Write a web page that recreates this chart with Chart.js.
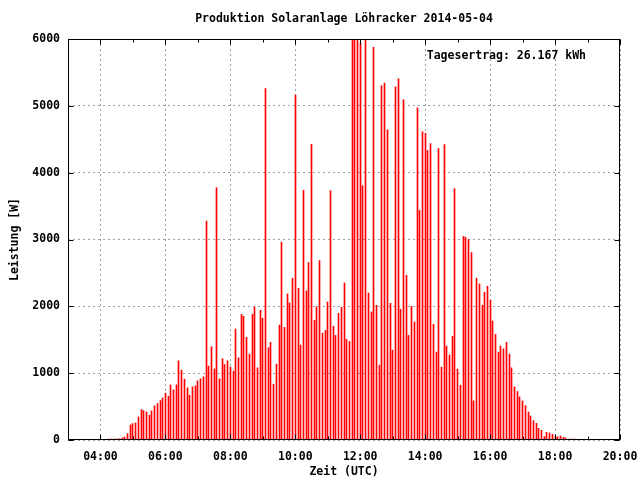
<!DOCTYPE html>
<html><head><meta charset="utf-8">
<script src="https://cdn.jsdelivr.net/npm/chart.js@4/dist/chart.umd.min.js"></script>
<style>html,body{margin:0;padding:0;background:#fff}canvas{display:block}</style>
</head><body>
<canvas id="c" width="640" height="480"></canvas>
<script>
const chartTitle = "Produktion Solaranlage Löhracker 2014-05-04";
const yieldText = "Tagesertrag: 26.167 kWh";
const xAxisTitle = "Zeit (UTC)";
const yAxisTitle = "Leistung [W]";
const xRange = ["03:00", "20:00"];
const xTickLabels = ["04:00","06:00","08:00","10:00","12:00","14:00","16:00","18:00","20:00"];
const xMinorTickLabels = ["05:00","07:00","09:00","11:00","13:00","15:00","17:00","19:00"];
const yTickValues = [0,1000,2000,3000,4000,5000,6000];

const times = [
"04:15","04:20","04:25","04:30","04:35","04:40","04:45","04:50","04:55",
"05:00","05:05","05:10","05:15","05:20","05:25","05:30","05:35","05:40","05:45","05:50","05:55",
"06:00","06:05","06:10","06:15","06:20","06:25","06:30","06:35","06:40","06:45","06:50","06:55",
"07:00","07:05","07:10","07:15","07:20","07:25","07:30","07:35","07:40","07:45","07:50","07:55",
"08:00","08:05","08:10","08:15","08:20","08:25","08:30","08:35","08:40","08:45","08:50","08:55",
"09:00","09:05","09:10","09:15","09:20","09:25","09:30","09:35","09:40","09:45","09:50","09:55",
"10:00","10:05","10:10","10:15","10:20","10:25","10:30","10:35","10:40","10:45","10:50","10:55",
"11:00","11:05","11:10","11:15","11:20","11:25","11:30","11:35","11:40","11:45","11:50","11:55",
"12:00","12:05","12:10","12:15","12:20","12:25","12:30","12:35","12:40","12:45","12:50","12:55",
"13:00","13:05","13:10","13:15","13:20","13:25","13:30","13:35","13:40","13:45","13:50","13:55",
"14:00","14:05","14:10","14:15","14:20","14:25","14:30","14:35","14:40","14:45","14:50","14:55",
"15:00","15:05","15:10","15:15","15:20","15:25","15:30","15:35","15:40","15:45","15:50","15:55",
"16:00","16:05","16:10","16:15","16:20","16:25","16:30","16:35","16:40","16:45","16:50","16:55",
"17:00","17:05","17:10","17:15","17:20","17:25","17:30","17:35","17:40","17:45","17:50","17:55",
"18:00","18:05","18:10","18:15","18:20","18:25","18:30","18:35"
];
const power = [
15,15,15,15,20,30,45,95,225,
245,255,345,455,440,420,370,435,510,545,590,630,
700,655,825,750,825,1185,1045,910,780,670,795,810,
885,915,945,3275,1105,1395,1065,3775,915,1215,1130,1185,
1090,1030,1660,1230,1880,1850,1535,1285,1880,1990,1080,1940,
1820,5260,1380,1460,835,1135,1720,2960,1685,2185,2050,2420,
5160,2270,1420,3735,2230,2655,4425,1790,1995,2685,1600,1640,
2065,3730,1700,1565,1895,1985,2350,1505,1475,6300,6500,6200,
5940,3805,6300,2200,1915,5875,2015,1120,5300,5340,4640,2045,
1345,5285,5405,1955,5090,2465,1565,2000,1765,4970,3435,4610,
4590,4330,4435,1730,1315,4360,1090,4420,1405,1270,1550,3760,
1060,820,3045,3035,3000,2805,585,2420,2335,2015,2210,2300,
2090,1780,1580,1315,1405,1365,1460,1285,1080,795,725,645,
585,515,420,360,290,250,175,145,50,115,105,85,
55,45,60,40,30,15,15,15
];

const FONT = "'DejaVu Sans Mono', 'Liberation Mono', monospace";
const fontSpec = {family: FONT, size: 11.5, weight: 'bold', lineHeight: 1.2};
function toMin(s){ const p = s.split(':'); return (+p[0])*60 + (+p[1]); }
function fmt(v){ const h = Math.floor(v/60), m = Math.round(v%60); return String(h).padStart(2,'0')+':'+String(m).padStart(2,'0'); }

// snap each bar (positioned by the library's x scale) to the pixel grid for crisp 1px impulses
const snapPlugin = {
  id: 'snap',
  afterDatasetsUpdate(chart){
    chart.getDatasetMeta(0).data.forEach(el => { el.x = Math.floor(el.x) + 0.5; });
  }
};

const framePlugin = {
  id: 'frame',
  afterDraw(chart){
    const {ctx, chartArea: a, scales: {x, y}} = chart;
    ctx.save();
    ctx.strokeStyle = '#000';
    ctx.lineWidth = 1;
    ctx.beginPath();
    const L = Math.round(a.left)+0.5, R = Math.round(a.right)-0.5, T = Math.round(a.top)+0.5, B = Math.round(a.bottom)-0.5;
    xTickLabels.forEach(l => {
      const px = Math.round(x.getPixelForValue(toMin(l))) + 0.5;
      ctx.moveTo(px, B); ctx.lineTo(px, B-5);
      ctx.moveTo(px, T); ctx.lineTo(px, T+5);
    });
    xMinorTickLabels.forEach(l => {
      const px = Math.round(x.getPixelForValue(toMin(l))) + 0.5;
      ctx.moveTo(px, B); ctx.lineTo(px, B-3);
      ctx.moveTo(px, T); ctx.lineTo(px, T+3);
    });
    yTickValues.forEach(v => {
      const py = Math.round(y.getPixelForValue(v)) + 0.5;
      ctx.moveTo(L, py); ctx.lineTo(L+5, py);
      ctx.moveTo(R, py); ctx.lineTo(R-5, py);
    });
    ctx.stroke();
    ctx.strokeRect(L, T, R-L, B-T);
    ctx.fillStyle = '#000';
    ctx.font = "bold 11.5px " + FONT;
    ctx.textAlign = 'right';
    ctx.textBaseline = 'middle';
    ctx.fillText(yieldText, a.right - 34, a.top + 17);
    ctx.restore();
  }
};

new Chart(document.getElementById('c'), {
  type: 'bar',
  data: {
    datasets: [{
      data: times.map((t, i) => ({x: toMin(t), y: power[i]})),
      backgroundColor: '#ff0000',
      borderWidth: 0,
      barThickness: 1,
      clip: 0
    }]
  },
  options: {
    responsive: false,
    animation: false,
    devicePixelRatio: 1,
    layout: {padding: {left: 0, right: 20, top: 0, bottom: 0}},
    plugins: {
      legend: {display: false},
      tooltip: {enabled: false},
      title: {display: true, text: chartTitle, fullSize: false, color: '#000', font: fontSpec, padding: {top: 12, bottom: 13.2}}
    },
    scales: {
      x: {
        type: 'linear',
        offset: false,
        min: toMin(xRange[0]), max: toMin(xRange[1]),
        afterBuildTicks: s => { s.ticks = xTickLabels.map(l => ({value: toMin(l)})); },
        ticks: {callback: v => fmt(v), color: '#000', font: fontSpec, padding: 10, maxRotation: 0, autoSkip: false},
        grid: {color: '#a0a0a0', drawTicks: false, lineWidth: 1, offset: false},
        border: {display: false, dash: [2, 3]},
        title: {display: true, text: xAxisTitle, color: '#000', font: fontSpec, padding: {top: 0, bottom: 1}},
        afterFit: s => { s.height = 40; s.paddingLeft = 0; s.paddingRight = 0; }
      },
      y: {
        min: 0, max: 6000,
        afterBuildTicks: s => { s.ticks = yTickValues.map(v => ({value: v})); },
        ticks: {color: '#000', font: fontSpec, padding: 8, callback: v => String(v)},
        grid: {color: '#a0a0a0', drawTicks: false, lineWidth: 1},
        border: {display: false, dash: [2, 3]},
        title: {display: true, text: yAxisTitle, color: '#000', font: fontSpec, padding: {top: 8, bottom: 0}},
        afterFit: s => { s.width = 68; s.paddingTop = 0; s.paddingBottom = 0; }
      }
    }
  },
  plugins: [snapPlugin, framePlugin]
});
</script>
</body></html>
